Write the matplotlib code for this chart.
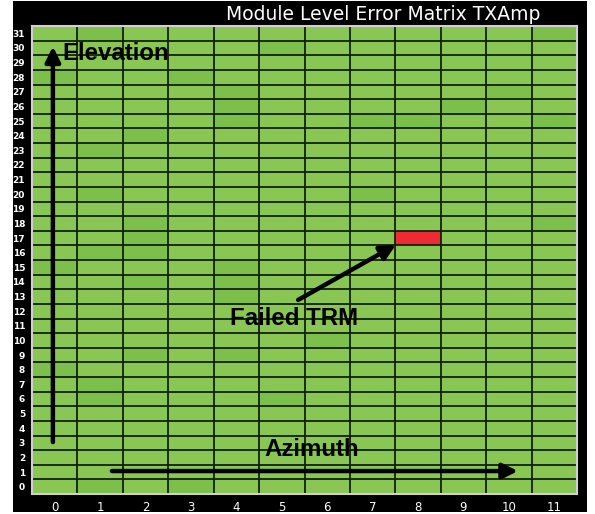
import matplotlib
matplotlib.use("Agg")
import matplotlib.pyplot as plt
from matplotlib.colors import ListedColormap
from matplotlib.patches import Rectangle
import numpy as np

title = "Module Level Error Matrix TXAmp"
azimuth_labels = [str(i) for i in range(12)]
elevation_labels = [str(i) for i in range(32)]

# Status per module, rows listed from elevation 31 (top) down to 0.
# 0 = normal (light), 1 = normal (slightly darker), 2 = failed
status_rows_top_down = [
    "010000000001",  # 31
    "000001000000",  # 30
    "000000000000",  # 29
    "100100000000",  # 28
    "000010000010",  # 27
    "000010000100",  # 26
    "000010011001",  # 25
    "001000000000",  # 24
    "010000000000",  # 23
    "000000000000",  # 22
    "000000000000",  # 21
    "010000010000",  # 20
    "000000000000",  # 19
    "001000000001",  # 18
    "001000002000",  # 17
    "011000000000",  # 16
    "100010000000",  # 15
    "001010000000",  # 14
    "000010000000",  # 13
    "000000000000",  # 12
    "000000000000",  # 11
    "000000100000",  # 10
    "001010000000",  # 9
    "100000000000",  # 8
    "010000000000",  # 7
    "010001000000",  # 6
    "000000000000",  # 5
    "000000000000",  # 4
    "000000000000",  # 3
    "000000000000",  # 2
    "000000000000",  # 1
    "010100000000",  # 0
]

status = np.array([[int(c) for c in r] for r in status_rows_top_down[::-1]])

cmap = ListedColormap(["#8ac653", "#7cc04b", "#ee2b35"])

fig = plt.figure(figsize=(5.95, 5.14), dpi=100)
fig.patch.set_facecolor("white")
fig.add_artist(Rectangle((13 / 595, 2 / 514), 574 / 595, 511 / 514,
                         transform=fig.transFigure, facecolor="black",
                         edgecolor="none", zorder=0))

ax = fig.add_axes([32 / 595, 20 / 514, 545 / 595, 468 / 514])
ax.imshow(status, cmap=cmap, vmin=-0.5, vmax=2.5, origin="lower",
          aspect="auto", interpolation="nearest")

ax.set_xticks(range(len(azimuth_labels)))
ax.set_xticklabels(azimuth_labels, color="white", fontsize=8.5)
ax.set_yticks(range(len(elevation_labels)))
ax.set_yticklabels(elevation_labels, color="white", fontsize=6.5,
                   fontweight="bold")
ax.tick_params(axis="both", length=0)
ax.tick_params(axis="x", pad=5)
ax.tick_params(axis="y", pad=5)
ax.set_xticks(np.arange(-0.5, 12, 1), minor=True)
ax.set_yticks(np.arange(-0.5, 32, 1), minor=True)
ax.tick_params(which="minor", length=0)
ax.grid(which="minor", color="#10200f", linewidth=1.3)
ax.set_xlim(-0.5, 11.5)
ax.set_ylim(-0.5, 31.5)
for s in ax.spines.values():
    s.set_color("#d0d0d0")
    s.set_linewidth(1.5)

fig.text(383 / 595, 1 - 14 / 514, title, color="white", fontsize=13.5,
         ha="center", va="center")

arrow_kw = dict(arrowstyle="-|>,head_length=0.9,head_width=0.45",
                color="black", lw=3.2, shrinkA=0, shrinkB=0)
ax.annotate("", xy=(-0.04, 30.1), xytext=(-0.04, 3.05), arrowprops=arrow_kw)
ax.annotate("", xy=(10.2, 1.07), xytext=(1.26, 1.07), arrowprops=arrow_kw)
ax.annotate("", xy=(7.51, 16.53), xytext=(5.36, 12.77), arrowprops=arrow_kw)

tkw = dict(fontfamily="Liberation Sans", fontweight="bold", fontsize=17.3,
           color="black")
ax.text(0.16, 29.65, "Elevation", ha="left", va="center", **tkw)
ax.text(5.66, 2.55, "Azimuth", ha="center", va="center", **tkw)
ax.text(5.27, 11.5, "Failed TRM", ha="center", va="center", **tkw)

fig.savefig("out.png", dpi=100, facecolor=fig.get_facecolor())
